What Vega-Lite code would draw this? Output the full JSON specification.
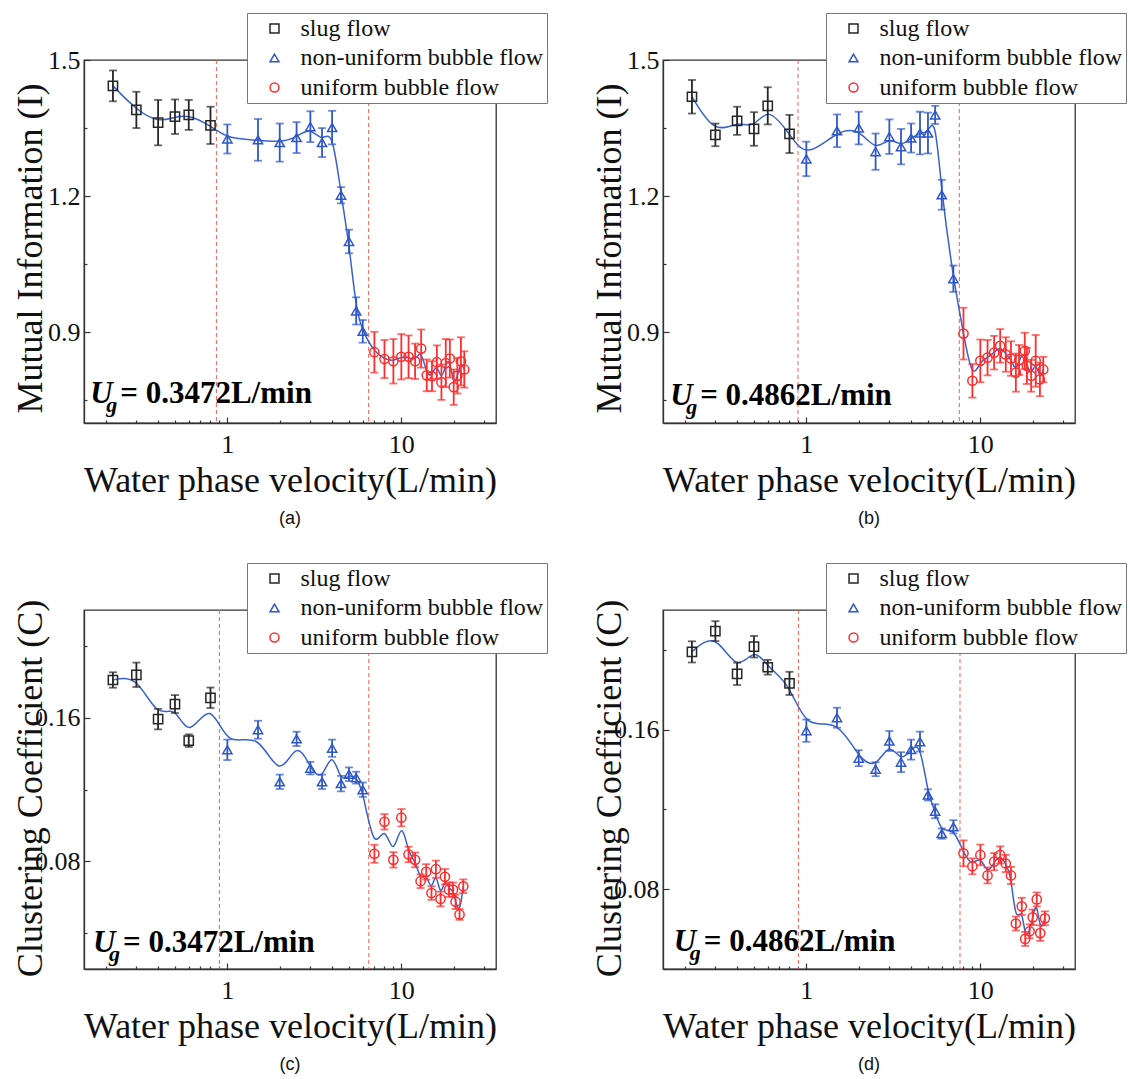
{
  "$schema": "https://vega.github.io/schema/vega-lite/v6.json",
  "autosize": {"type": "none"},
  "padding": {"left": 84, "top": 60, "right": 1046, "bottom": 1019},
  "background": "white",
  "config": {
    "font": "Liberation Serif",
    "view": {"stroke": "#333", "strokeWidth": 1.3},
    "axis": {"labelFont": "Liberation Serif", "labelFontSize": 26, "labelColor": "#111", "titleFont": "Liberation Serif", "titleFontSize": 36, "titleFontWeight": "normal", "titleColor": "#111", "domainColor": "#333", "domainWidth": 1.3, "tickColor": "#333", "tickWidth": 1.2, "grid": false, "labelOverlap": false, "labelFlush": false, "labelPadding": 10, "tickSize": -5},
    "axisX": {"labelPadding": 14},
    "legend": {"orient": "none", "legendX": 163, "legendY": -47, "fillColor": "white", "strokeColor": "#777", "padding": 3.5, "symbolOffset": 12, "labelOffset": 14, "rowPadding": 5.5, "labelFont": "Liberation Serif", "labelFontSize": 24, "labelColor": "#111", "labelLimit": 0, "symbolSize": 80, "symbolStrokeWidth": 1.5, "symbolFillColor": "transparent"},
    "title": {"font": "Liberation Sans", "fontSize": 18, "fontWeight": "normal", "color": "#111", "orient": "bottom", "offset": 12}
  },
  "datasets": {
    "vl": [
      {"p": "a", "x": 0.865}, {"p": "a", "x": 6.49},
      {"p": "b", "x": 0.895}, {"p": "b", "x": 7.57},
      {"p": "c", "x": 0.9}, {"p": "c", "x": 6.5},
      {"p": "d", "x": 0.9}, {"p": "d", "x": 7.64}
    ],
    "ann": [
      {"p": "a", "x": 0.163, "y": 0.743, "t": "= 0.3472L/min"},
      {"p": "b", "x": 0.165, "y": 0.74, "t": "= 0.4862L/min"},
      {"p": "c", "x": 0.169, "y": 0.0295, "t": "= 0.3472L/min"},
      {"p": "d", "x": 0.173, "y": 0.049, "t": "= 0.4862L/min"}
    ],
    "pts": [
      {"p": "a", "r": "slug flow", "x": 0.22, "y": 1.443, "e": 0.034},
      {"p": "a", "r": "slug flow", "x": 0.3, "y": 1.39, "e": 0.04},
      {"p": "a", "r": "slug flow", "x": 0.4, "y": 1.362, "e": 0.05},
      {"p": "a", "r": "slug flow", "x": 0.5, "y": 1.375, "e": 0.038},
      {"p": "a", "r": "slug flow", "x": 0.6, "y": 1.379, "e": 0.033},
      {"p": "a", "r": "slug flow", "x": 0.8, "y": 1.356, "e": 0.041},
      {"p": "a", "r": "non-uniform bubble flow", "x": 1, "y": 1.326, "e": 0.032},
      {"p": "a", "r": "non-uniform bubble flow", "x": 1.5, "y": 1.324, "e": 0.046},
      {"p": "a", "r": "non-uniform bubble flow", "x": 2, "y": 1.318, "e": 0.042},
      {"p": "a", "r": "non-uniform bubble flow", "x": 2.5, "y": 1.329, "e": 0.034},
      {"p": "a", "r": "non-uniform bubble flow", "x": 3, "y": 1.353, "e": 0.034},
      {"p": "a", "r": "non-uniform bubble flow", "x": 3.5, "y": 1.318, "e": 0.032},
      {"p": "a", "r": "non-uniform bubble flow", "x": 4, "y": 1.351, "e": 0.037},
      {"p": "a", "r": "non-uniform bubble flow", "x": 4.5, "y": 1.202, "e": 0.018},
      {"p": "a", "r": "non-uniform bubble flow", "x": 5, "y": 1.1, "e": 0.026},
      {"p": "a", "r": "non-uniform bubble flow", "x": 5.5, "y": 0.947, "e": 0.03},
      {"p": "a", "r": "non-uniform bubble flow", "x": 6, "y": 0.902, "e": 0.025},
      {"p": "a", "r": "uniform bubble flow", "x": 7, "y": 0.856, "e": 0.045},
      {"p": "a", "r": "uniform bubble flow", "x": 8, "y": 0.841, "e": 0.042},
      {"p": "a", "r": "uniform bubble flow", "x": 9, "y": 0.836, "e": 0.049},
      {"p": "a", "r": "uniform bubble flow", "x": 10, "y": 0.846, "e": 0.05},
      {"p": "a", "r": "uniform bubble flow", "x": 11, "y": 0.846, "e": 0.047},
      {"p": "a", "r": "uniform bubble flow", "x": 12, "y": 0.836, "e": 0.039},
      {"p": "a", "r": "uniform bubble flow", "x": 13, "y": 0.864, "e": 0.042},
      {"p": "a", "r": "uniform bubble flow", "x": 14, "y": 0.805, "e": 0.035},
      {"p": "a", "r": "uniform bubble flow", "x": 15, "y": 0.803, "e": 0.033},
      {"p": "a", "r": "uniform bubble flow", "x": 16, "y": 0.834, "e": 0.037},
      {"p": "a", "r": "uniform bubble flow", "x": 17, "y": 0.79, "e": 0.039},
      {"p": "a", "r": "uniform bubble flow", "x": 18, "y": 0.832, "e": 0.053},
      {"p": "a", "r": "uniform bubble flow", "x": 19, "y": 0.842, "e": 0.042},
      {"p": "a", "r": "uniform bubble flow", "x": 20, "y": 0.779, "e": 0.039},
      {"p": "a", "r": "uniform bubble flow", "x": 21, "y": 0.804, "e": 0.039},
      {"p": "a", "r": "uniform bubble flow", "x": 22, "y": 0.836, "e": 0.053},
      {"p": "a", "r": "uniform bubble flow", "x": 23, "y": 0.818, "e": 0.04},

      {"p": "b", "r": "slug flow", "x": 0.22, "y": 1.419, "e": 0.037},
      {"p": "b", "r": "slug flow", "x": 0.3, "y": 1.335, "e": 0.025},
      {"p": "b", "r": "slug flow", "x": 0.4, "y": 1.366, "e": 0.031},
      {"p": "b", "r": "slug flow", "x": 0.5, "y": 1.348, "e": 0.037},
      {"p": "b", "r": "slug flow", "x": 0.6, "y": 1.399, "e": 0.041},
      {"p": "b", "r": "slug flow", "x": 0.8, "y": 1.337, "e": 0.042},
      {"p": "b", "r": "non-uniform bubble flow", "x": 1, "y": 1.282, "e": 0.038},
      {"p": "b", "r": "non-uniform bubble flow", "x": 1.5, "y": 1.344, "e": 0.036},
      {"p": "b", "r": "non-uniform bubble flow", "x": 2, "y": 1.35, "e": 0.036},
      {"p": "b", "r": "non-uniform bubble flow", "x": 2.5, "y": 1.298, "e": 0.04},
      {"p": "b", "r": "non-uniform bubble flow", "x": 3, "y": 1.331, "e": 0.038},
      {"p": "b", "r": "non-uniform bubble flow", "x": 3.5, "y": 1.309, "e": 0.039},
      {"p": "b", "r": "non-uniform bubble flow", "x": 4, "y": 1.328, "e": 0.032},
      {"p": "b", "r": "non-uniform bubble flow", "x": 4.5, "y": 1.339, "e": 0.047},
      {"p": "b", "r": "non-uniform bubble flow", "x": 5, "y": 1.339, "e": 0.045},
      {"p": "b", "r": "non-uniform bubble flow", "x": 5.5, "y": 1.379, "e": 0.02},
      {"p": "b", "r": "non-uniform bubble flow", "x": 6, "y": 1.203, "e": 0.033},
      {"p": "b", "r": "non-uniform bubble flow", "x": 7, "y": 1.018, "e": 0.029},
      {"p": "b", "r": "uniform bubble flow", "x": 8, "y": 0.897, "e": 0.057},
      {"p": "b", "r": "uniform bubble flow", "x": 9, "y": 0.793, "e": 0.037},
      {"p": "b", "r": "uniform bubble flow", "x": 10, "y": 0.837, "e": 0.047},
      {"p": "b", "r": "uniform bubble flow", "x": 11, "y": 0.844, "e": 0.039},
      {"p": "b", "r": "uniform bubble flow", "x": 12, "y": 0.855, "e": 0.037},
      {"p": "b", "r": "uniform bubble flow", "x": 13, "y": 0.87, "e": 0.037},
      {"p": "b", "r": "uniform bubble flow", "x": 14, "y": 0.851, "e": 0.038},
      {"p": "b", "r": "uniform bubble flow", "x": 15, "y": 0.842, "e": 0.038},
      {"p": "b", "r": "uniform bubble flow", "x": 16, "y": 0.811, "e": 0.042},
      {"p": "b", "r": "uniform bubble flow", "x": 16.7, "y": 0.839, "e": 0.033},
      {"p": "b", "r": "uniform bubble flow", "x": 18, "y": 0.859, "e": 0.04},
      {"p": "b", "r": "uniform bubble flow", "x": 18.5, "y": 0.826, "e": 0.04},
      {"p": "b", "r": "uniform bubble flow", "x": 19.6, "y": 0.804, "e": 0.035},
      {"p": "b", "r": "uniform bubble flow", "x": 20.8, "y": 0.837, "e": 0.057},
      {"p": "b", "r": "uniform bubble flow", "x": 22, "y": 0.796, "e": 0.037},
      {"p": "b", "r": "uniform bubble flow", "x": 23, "y": 0.818, "e": 0.028},

      {"p": "c", "r": "slug flow", "x": 0.22, "y": 0.181, "e": 0.0043},
      {"p": "c", "r": "slug flow", "x": 0.3, "y": 0.1839, "e": 0.0068},
      {"p": "c", "r": "slug flow", "x": 0.4, "y": 0.1592, "e": 0.0057},
      {"p": "c", "r": "slug flow", "x": 0.5, "y": 0.1676, "e": 0.005},
      {"p": "c", "r": "slug flow", "x": 0.6, "y": 0.1472, "e": 0.0035},
      {"p": "c", "r": "slug flow", "x": 0.8, "y": 0.1711, "e": 0.0057},
      {"p": "c", "r": "non-uniform bubble flow", "x": 1, "y": 0.1421, "e": 0.0057},
      {"p": "c", "r": "non-uniform bubble flow", "x": 1.5, "y": 0.1533, "e": 0.005},
      {"p": "c", "r": "non-uniform bubble flow", "x": 2, "y": 0.1243, "e": 0.004},
      {"p": "c", "r": "non-uniform bubble flow", "x": 2.5, "y": 0.1482, "e": 0.004},
      {"p": "c", "r": "non-uniform bubble flow", "x": 3, "y": 0.1319, "e": 0.0035},
      {"p": "c", "r": "non-uniform bubble flow", "x": 3.5, "y": 0.1243, "e": 0.004},
      {"p": "c", "r": "non-uniform bubble flow", "x": 4, "y": 0.143, "e": 0.0048},
      {"p": "c", "r": "non-uniform bubble flow", "x": 4.5, "y": 0.1233, "e": 0.0043},
      {"p": "c", "r": "non-uniform bubble flow", "x": 5, "y": 0.1285, "e": 0.0038},
      {"p": "c", "r": "non-uniform bubble flow", "x": 5.5, "y": 0.1266, "e": 0.0033},
      {"p": "c", "r": "non-uniform bubble flow", "x": 6, "y": 0.1199, "e": 0.004},
      {"p": "c", "r": "uniform bubble flow", "x": 7, "y": 0.0842, "e": 0.005},
      {"p": "c", "r": "uniform bubble flow", "x": 8, "y": 0.102, "e": 0.0043},
      {"p": "c", "r": "uniform bubble flow", "x": 9, "y": 0.0808, "e": 0.0043},
      {"p": "c", "r": "uniform bubble flow", "x": 10, "y": 0.1043, "e": 0.0048},
      {"p": "c", "r": "uniform bubble flow", "x": 11, "y": 0.0838, "e": 0.0043},
      {"p": "c", "r": "uniform bubble flow", "x": 12, "y": 0.0808, "e": 0.0041},
      {"p": "c", "r": "uniform bubble flow", "x": 12.9, "y": 0.0689, "e": 0.0038},
      {"p": "c", "r": "uniform bubble flow", "x": 13.9, "y": 0.0741, "e": 0.0043},
      {"p": "c", "r": "uniform bubble flow", "x": 14.9, "y": 0.0623, "e": 0.0038},
      {"p": "c", "r": "uniform bubble flow", "x": 15.8, "y": 0.0756, "e": 0.0048},
      {"p": "c", "r": "uniform bubble flow", "x": 16.8, "y": 0.059, "e": 0.0041},
      {"p": "c", "r": "uniform bubble flow", "x": 17.8, "y": 0.0714, "e": 0.0043},
      {"p": "c", "r": "uniform bubble flow", "x": 18.8, "y": 0.0642, "e": 0.004},
      {"p": "c", "r": "uniform bubble flow", "x": 19.8, "y": 0.0642, "e": 0.004},
      {"p": "c", "r": "uniform bubble flow", "x": 20.5, "y": 0.0575, "e": 0.004},
      {"p": "c", "r": "uniform bubble flow", "x": 21.6, "y": 0.0504, "e": 0.003},
      {"p": "c", "r": "uniform bubble flow", "x": 22.7, "y": 0.0661, "e": 0.0038},

      {"p": "d", "r": "slug flow", "x": 0.22, "y": 0.199, "e": 0.0053},
      {"p": "d", "r": "slug flow", "x": 0.3, "y": 0.2094, "e": 0.005},
      {"p": "d", "r": "slug flow", "x": 0.4, "y": 0.188, "e": 0.0056},
      {"p": "d", "r": "slug flow", "x": 0.5, "y": 0.2016, "e": 0.0054},
      {"p": "d", "r": "slug flow", "x": 0.6, "y": 0.1913, "e": 0.0037},
      {"p": "d", "r": "slug flow", "x": 0.8, "y": 0.1832, "e": 0.0058},
      {"p": "d", "r": "non-uniform bubble flow", "x": 1, "y": 0.1595, "e": 0.0056},
      {"p": "d", "r": "non-uniform bubble flow", "x": 1.5, "y": 0.166, "e": 0.005},
      {"p": "d", "r": "non-uniform bubble flow", "x": 2, "y": 0.1457, "e": 0.004},
      {"p": "d", "r": "non-uniform bubble flow", "x": 2.5, "y": 0.1402, "e": 0.0035},
      {"p": "d", "r": "non-uniform bubble flow", "x": 3, "y": 0.1543, "e": 0.005},
      {"p": "d", "r": "non-uniform bubble flow", "x": 3.5, "y": 0.1437, "e": 0.005},
      {"p": "d", "r": "non-uniform bubble flow", "x": 4, "y": 0.15, "e": 0.005},
      {"p": "d", "r": "non-uniform bubble flow", "x": 4.5, "y": 0.154, "e": 0.005},
      {"p": "d", "r": "non-uniform bubble flow", "x": 5, "y": 0.1273, "e": 0.0028},
      {"p": "d", "r": "non-uniform bubble flow", "x": 5.5, "y": 0.1191, "e": 0.0035},
      {"p": "d", "r": "non-uniform bubble flow", "x": 6, "y": 0.1079, "e": 0.0026},
      {"p": "d", "r": "non-uniform bubble flow", "x": 7, "y": 0.1113, "e": 0.0033},
      {"p": "d", "r": "uniform bubble flow", "x": 8, "y": 0.098, "e": 0.0065},
      {"p": "d", "r": "uniform bubble flow", "x": 9, "y": 0.0915, "e": 0.004},
      {"p": "d", "r": "uniform bubble flow", "x": 10, "y": 0.0972, "e": 0.0052},
      {"p": "d", "r": "uniform bubble flow", "x": 11, "y": 0.0869, "e": 0.004},
      {"p": "d", "r": "uniform bubble flow", "x": 12, "y": 0.0938, "e": 0.0043},
      {"p": "d", "r": "uniform bubble flow", "x": 13, "y": 0.0972, "e": 0.0043},
      {"p": "d", "r": "uniform bubble flow", "x": 14, "y": 0.0929, "e": 0.0043},
      {"p": "d", "r": "uniform bubble flow", "x": 15, "y": 0.0869, "e": 0.0043},
      {"p": "d", "r": "uniform bubble flow", "x": 16, "y": 0.0628, "e": 0.0035},
      {"p": "d", "r": "uniform bubble flow", "x": 17.3, "y": 0.0714, "e": 0.0043},
      {"p": "d", "r": "uniform bubble flow", "x": 18.1, "y": 0.0551, "e": 0.0035},
      {"p": "d", "r": "uniform bubble flow", "x": 19.2, "y": 0.0589, "e": 0.0035},
      {"p": "d", "r": "uniform bubble flow", "x": 20, "y": 0.0659, "e": 0.0039},
      {"p": "d", "r": "uniform bubble flow", "x": 21.1, "y": 0.0749, "e": 0.0035},
      {"p": "d", "r": "uniform bubble flow", "x": 22.1, "y": 0.058, "e": 0.0039},
      {"p": "d", "r": "uniform bubble flow", "x": 23.5, "y": 0.0654, "e": 0.0035}
    ]
  },
  "columns": 2,
  "bounds": "flush",
  "spacing": {"row": 187, "column": 167},
  "resolve": {"legend": {"color": "independent", "shape": "independent"}},
  "concat": [
    {
      "width": 412, "height": 363,
      "title": {"text": "(a)"},
      "encoding": {"x": {"field": "x", "type": "quantitative", "scale": {"type": "log", "domain": [0.15, 35], "nice": false}, "axis": {"title": "Water phase velocity(L/min)", "titleY": 57, "titleBaseline": "middle", "values": [0.2, 0.3, 0.4, 0.5, 0.6, 0.7, 0.8, 0.9, 1, 2, 3, 4, 5, 6, 7, 8, 9, 10, 20, 30], "labelExpr": "datum.value == 1 ? '1' : datum.value == 10 ? '10' : ''", "tickSize": {"condition": {"test": "datum.value == 1 || datum.value == 10", "value": -6}, "value": -3}}}},
      "layer": [
        {"data": {"name": "vl"}, "transform": [{"filter": "datum.p == 'a'"}], "mark": {"type": "rule", "color": "#f0604f", "strokeDash": [4, 3], "strokeWidth": 1}, "encoding": {}},
        {"data": {"name": "pts"}, "transform": [{"filter": "datum.p == 'a'"}], "mark": {"type": "line", "interpolate": "basis", "color": "#3a62cc", "strokeWidth": 1.5},
          "encoding": {"y": {"field": "y", "type": "quantitative", "scale": {"domain": [0.7, 1.5], "nice": false, "zero": false}, "axis": {"title": "Mutual Information (I)", "titleX": -54, "titleY": 188, "titleBaseline": "middle", "values": [0.75, 0.9, 1.05, 1.2, 1.35, 1.5], "labelExpr": "datum.value == 0.9 || datum.value == 1.2 || datum.value == 1.5 ? format(datum.value, '.1f') : ''", "tickSize": {"condition": {"test": "datum.value == 0.9 || datum.value == 1.2 || datum.value == 1.5", "value": -6}, "value": -3}}}}},
        {"data": {"name": "pts"}, "transform": [{"filter": "datum.p == 'a' && datum.r == 'slug flow'"}], "mark": {"type": "errorbar", "color": "#262626", "thickness": 1.8, "ticks": {"size": 8, "thickness": 1.8}},
          "encoding": {"y": {"field": "y", "type": "quantitative", "title": "Mutual Information (I)"}, "yError": {"field": "e"}}},
        {"data": {"name": "pts"}, "transform": [{"filter": "datum.p == 'a' && datum.r == 'non-uniform bubble flow'"}], "mark": {"type": "errorbar", "color": "#2f57c9", "thickness": 1.8, "ticks": {"size": 8, "thickness": 1.8}},
          "encoding": {"y": {"field": "y", "type": "quantitative", "title": "Mutual Information (I)"}, "yError": {"field": "e"}}},
        {"data": {"name": "pts"}, "transform": [{"filter": "datum.p == 'a' && datum.r == 'uniform bubble flow'"}], "mark": {"type": "errorbar", "color": "#ff2d2d", "thickness": 1.8, "ticks": {"size": 8, "thickness": 1.8}},
          "encoding": {"y": {"field": "y", "type": "quantitative", "title": "Mutual Information (I)"}, "yError": {"field": "e"}}},
        {"data": {"name": "pts"}, "transform": [{"filter": "datum.p == 'a'"}], "mark": {"type": "point", "filled": false, "size": 85, "strokeWidth": 1.5, "opacity": 1},
          "encoding": {"y": {"field": "y", "type": "quantitative", "title": "Mutual Information (I)"},
            "color": {"field": "r", "type": "nominal", "title": null, "scale": {"domain": ["slug flow", "non-uniform bubble flow", "uniform bubble flow"], "range": ["#262626", "#2f57c9", "#ff2d2d"]}},
            "shape": {"field": "r", "type": "nominal", "title": null, "scale": {"domain": ["slug flow", "non-uniform bubble flow", "uniform bubble flow"], "range": ["square", "triangle-up", "circle"]}}}},
        {"data": {"name": "ann"}, "transform": [{"filter": "datum.p == 'a'"}], "mark": {"type": "text", "text": "U", "align": "left", "baseline": "alphabetic", "fontSize": 31, "fontWeight": "bold", "fontStyle": "italic", "color": "#000"},
          "encoding": {"y": {"field": "y", "type": "quantitative"}}},
        {"data": {"name": "ann"}, "transform": [{"filter": "datum.p == 'a'"}], "mark": {"type": "text", "text": "g", "align": "left", "baseline": "alphabetic", "fontSize": 22, "fontWeight": "bold", "fontStyle": "italic", "color": "#000", "dx": 16, "dy": 9},
          "encoding": {"y": {"field": "y", "type": "quantitative"}}},
        {"data": {"name": "ann"}, "transform": [{"filter": "datum.p == 'a'"}], "mark": {"type": "text", "align": "left", "baseline": "alphabetic", "fontSize": 31, "fontWeight": "bold", "color": "#000", "dx": 30},
          "encoding": {"y": {"field": "y", "type": "quantitative"}, "text": {"field": "t"}}}
      ]
    },
    {
      "width": 412, "height": 363,
      "title": {"text": "(b)"},
      "encoding": {"x": {"field": "x", "type": "quantitative", "scale": {"type": "log", "domain": [0.15, 35], "nice": false}, "axis": {"title": "Water phase velocity(L/min)", "titleY": 57, "titleBaseline": "middle", "values": [0.2, 0.3, 0.4, 0.5, 0.6, 0.7, 0.8, 0.9, 1, 2, 3, 4, 5, 6, 7, 8, 9, 10, 20, 30], "labelExpr": "datum.value == 1 ? '1' : datum.value == 10 ? '10' : ''", "tickSize": {"condition": {"test": "datum.value == 1 || datum.value == 10", "value": -6}, "value": -3}}}},
      "layer": [
        {"data": {"name": "vl"}, "transform": [{"filter": "datum.p == 'b'"}], "mark": {"type": "rule", "color": "#f0604f", "strokeDash": [4, 3], "strokeWidth": 1}, "encoding": {}},
        {"data": {"name": "pts"}, "transform": [{"filter": "datum.p == 'b'"}], "mark": {"type": "line", "interpolate": "basis", "color": "#3a62cc", "strokeWidth": 1.5},
          "encoding": {"y": {"field": "y", "type": "quantitative", "scale": {"domain": [0.7, 1.5], "nice": false, "zero": false}, "axis": {"title": "Mutual Information (I)", "titleX": -54, "titleY": 188, "titleBaseline": "middle", "values": [0.75, 0.9, 1.05, 1.2, 1.35, 1.5], "labelExpr": "datum.value == 0.9 || datum.value == 1.2 || datum.value == 1.5 ? format(datum.value, '.1f') : ''", "tickSize": {"condition": {"test": "datum.value == 0.9 || datum.value == 1.2 || datum.value == 1.5", "value": -6}, "value": -3}}}}},
        {"data": {"name": "pts"}, "transform": [{"filter": "datum.p == 'b' && datum.r == 'slug flow'"}], "mark": {"type": "errorbar", "color": "#262626", "thickness": 1.8, "ticks": {"size": 8, "thickness": 1.8}},
          "encoding": {"y": {"field": "y", "type": "quantitative", "title": "Mutual Information (I)"}, "yError": {"field": "e"}}},
        {"data": {"name": "pts"}, "transform": [{"filter": "datum.p == 'b' && datum.r == 'non-uniform bubble flow'"}], "mark": {"type": "errorbar", "color": "#2f57c9", "thickness": 1.8, "ticks": {"size": 8, "thickness": 1.8}},
          "encoding": {"y": {"field": "y", "type": "quantitative", "title": "Mutual Information (I)"}, "yError": {"field": "e"}}},
        {"data": {"name": "pts"}, "transform": [{"filter": "datum.p == 'b' && datum.r == 'uniform bubble flow'"}], "mark": {"type": "errorbar", "color": "#ff2d2d", "thickness": 1.8, "ticks": {"size": 8, "thickness": 1.8}},
          "encoding": {"y": {"field": "y", "type": "quantitative", "title": "Mutual Information (I)"}, "yError": {"field": "e"}}},
        {"data": {"name": "pts"}, "transform": [{"filter": "datum.p == 'b'"}], "mark": {"type": "point", "filled": false, "size": 85, "strokeWidth": 1.5, "opacity": 1},
          "encoding": {"y": {"field": "y", "type": "quantitative", "title": "Mutual Information (I)"},
            "color": {"field": "r", "type": "nominal", "title": null, "scale": {"domain": ["slug flow", "non-uniform bubble flow", "uniform bubble flow"], "range": ["#262626", "#2f57c9", "#ff2d2d"]}},
            "shape": {"field": "r", "type": "nominal", "title": null, "scale": {"domain": ["slug flow", "non-uniform bubble flow", "uniform bubble flow"], "range": ["square", "triangle-up", "circle"]}}}},
        {"data": {"name": "ann"}, "transform": [{"filter": "datum.p == 'b'"}], "mark": {"type": "text", "text": "U", "align": "left", "baseline": "alphabetic", "fontSize": 31, "fontWeight": "bold", "fontStyle": "italic", "color": "#000"},
          "encoding": {"y": {"field": "y", "type": "quantitative"}}},
        {"data": {"name": "ann"}, "transform": [{"filter": "datum.p == 'b'"}], "mark": {"type": "text", "text": "g", "align": "left", "baseline": "alphabetic", "fontSize": 22, "fontWeight": "bold", "fontStyle": "italic", "color": "#000", "dx": 16, "dy": 9},
          "encoding": {"y": {"field": "y", "type": "quantitative"}}},
        {"data": {"name": "ann"}, "transform": [{"filter": "datum.p == 'b'"}], "mark": {"type": "text", "align": "left", "baseline": "alphabetic", "fontSize": 31, "fontWeight": "bold", "color": "#000", "dx": 30},
          "encoding": {"y": {"field": "y", "type": "quantitative"}, "text": {"field": "t"}}}
      ]
    },
    {
      "width": 412, "height": 359,
      "title": {"text": "(c)"},
      "encoding": {"x": {"field": "x", "type": "quantitative", "scale": {"type": "log", "domain": [0.15, 35], "nice": false}, "axis": {"title": "Water phase velocity(L/min)", "titleY": 57, "titleBaseline": "middle", "values": [0.2, 0.3, 0.4, 0.5, 0.6, 0.7, 0.8, 0.9, 1, 2, 3, 4, 5, 6, 7, 8, 9, 10, 20, 30], "labelExpr": "datum.value == 1 ? '1' : datum.value == 10 ? '10' : ''", "tickSize": {"condition": {"test": "datum.value == 1 || datum.value == 10", "value": -6}, "value": -3}}}},
      "layer": [
        {"data": {"name": "vl"}, "transform": [{"filter": "datum.p == 'c'"}], "mark": {"type": "rule", "color": "#f0604f", "strokeDash": [4, 3], "strokeWidth": 1}, "encoding": {}},
        {"data": {"name": "pts"}, "transform": [{"filter": "datum.p == 'c'"}], "mark": {"type": "line", "interpolate": "basis", "color": "#3a62cc", "strokeWidth": 1.5},
          "encoding": {"y": {"field": "y", "type": "quantitative", "scale": {"domain": [0.02, 0.22], "nice": false, "zero": false}, "axis": {"title": "Clustering Coefficient (C)", "titleX": -54, "titleY": 178, "titleBaseline": "middle", "values": [0.04, 0.08, 0.12, 0.16, 0.2], "labelExpr": "datum.value == 0.08 || datum.value == 0.16 ? format(datum.value, '.2f') : ''", "tickSize": {"condition": {"test": "datum.value == 0.08 || datum.value == 0.16", "value": -6}, "value": -3}}}}},
        {"data": {"name": "pts"}, "transform": [{"filter": "datum.p == 'c' && datum.r == 'slug flow'"}], "mark": {"type": "errorbar", "color": "#262626", "thickness": 1.8, "ticks": {"size": 8, "thickness": 1.8}},
          "encoding": {"y": {"field": "y", "type": "quantitative", "title": "Clustering Coefficient (C)"}, "yError": {"field": "e"}}},
        {"data": {"name": "pts"}, "transform": [{"filter": "datum.p == 'c' && datum.r == 'non-uniform bubble flow'"}], "mark": {"type": "errorbar", "color": "#2f57c9", "thickness": 1.8, "ticks": {"size": 8, "thickness": 1.8}},
          "encoding": {"y": {"field": "y", "type": "quantitative", "title": "Clustering Coefficient (C)"}, "yError": {"field": "e"}}},
        {"data": {"name": "pts"}, "transform": [{"filter": "datum.p == 'c' && datum.r == 'uniform bubble flow'"}], "mark": {"type": "errorbar", "color": "#ff2d2d", "thickness": 1.8, "ticks": {"size": 8, "thickness": 1.8}},
          "encoding": {"y": {"field": "y", "type": "quantitative", "title": "Clustering Coefficient (C)"}, "yError": {"field": "e"}}},
        {"data": {"name": "pts"}, "transform": [{"filter": "datum.p == 'c'"}], "mark": {"type": "point", "filled": false, "size": 85, "strokeWidth": 1.5, "opacity": 1},
          "encoding": {"y": {"field": "y", "type": "quantitative", "title": "Clustering Coefficient (C)"},
            "color": {"field": "r", "type": "nominal", "title": null, "scale": {"domain": ["slug flow", "non-uniform bubble flow", "uniform bubble flow"], "range": ["#262626", "#2f57c9", "#ff2d2d"]}},
            "shape": {"field": "r", "type": "nominal", "title": null, "scale": {"domain": ["slug flow", "non-uniform bubble flow", "uniform bubble flow"], "range": ["square", "triangle-up", "circle"]}}}},
        {"data": {"name": "ann"}, "transform": [{"filter": "datum.p == 'c'"}], "mark": {"type": "text", "text": "U", "align": "left", "baseline": "alphabetic", "fontSize": 31, "fontWeight": "bold", "fontStyle": "italic", "color": "#000"},
          "encoding": {"y": {"field": "y", "type": "quantitative"}}},
        {"data": {"name": "ann"}, "transform": [{"filter": "datum.p == 'c'"}], "mark": {"type": "text", "text": "g", "align": "left", "baseline": "alphabetic", "fontSize": 22, "fontWeight": "bold", "fontStyle": "italic", "color": "#000", "dx": 16, "dy": 9},
          "encoding": {"y": {"field": "y", "type": "quantitative"}}},
        {"data": {"name": "ann"}, "transform": [{"filter": "datum.p == 'c'"}], "mark": {"type": "text", "align": "left", "baseline": "alphabetic", "fontSize": 31, "fontWeight": "bold", "color": "#000", "dx": 30},
          "encoding": {"y": {"field": "y", "type": "quantitative"}, "text": {"field": "t"}}}
      ]
    },
    {
      "width": 412, "height": 359,
      "title": {"text": "(d)"},
      "encoding": {"x": {"field": "x", "type": "quantitative", "scale": {"type": "log", "domain": [0.15, 35], "nice": false}, "axis": {"title": "Water phase velocity(L/min)", "titleY": 57, "titleBaseline": "middle", "values": [0.2, 0.3, 0.4, 0.5, 0.6, 0.7, 0.8, 0.9, 1, 2, 3, 4, 5, 6, 7, 8, 9, 10, 20, 30], "labelExpr": "datum.value == 1 ? '1' : datum.value == 10 ? '10' : ''", "tickSize": {"condition": {"test": "datum.value == 1 || datum.value == 10", "value": -6}, "value": -3}}}},
      "layer": [
        {"data": {"name": "vl"}, "transform": [{"filter": "datum.p == 'd'"}], "mark": {"type": "rule", "color": "#f0604f", "strokeDash": [4, 3], "strokeWidth": 1}, "encoding": {}},
        {"data": {"name": "pts"}, "transform": [{"filter": "datum.p == 'd'"}], "mark": {"type": "line", "interpolate": "basis", "color": "#3a62cc", "strokeWidth": 1.5},
          "encoding": {"y": {"field": "y", "type": "quantitative", "scale": {"domain": [0.04, 0.22], "nice": false, "zero": false}, "axis": {"title": "Clustering Coefficient (C)", "titleX": -54, "titleY": 178, "titleBaseline": "middle", "values": [0.04, 0.08, 0.12, 0.16, 0.2], "labelExpr": "datum.value == 0.08 || datum.value == 0.16 ? format(datum.value, '.2f') : ''", "tickSize": {"condition": {"test": "datum.value == 0.08 || datum.value == 0.16", "value": -6}, "value": -3}}}}},
        {"data": {"name": "pts"}, "transform": [{"filter": "datum.p == 'd' && datum.r == 'slug flow'"}], "mark": {"type": "errorbar", "color": "#262626", "thickness": 1.8, "ticks": {"size": 8, "thickness": 1.8}},
          "encoding": {"y": {"field": "y", "type": "quantitative", "title": "Clustering Coefficient (C)"}, "yError": {"field": "e"}}},
        {"data": {"name": "pts"}, "transform": [{"filter": "datum.p == 'd' && datum.r == 'non-uniform bubble flow'"}], "mark": {"type": "errorbar", "color": "#2f57c9", "thickness": 1.8, "ticks": {"size": 8, "thickness": 1.8}},
          "encoding": {"y": {"field": "y", "type": "quantitative", "title": "Clustering Coefficient (C)"}, "yError": {"field": "e"}}},
        {"data": {"name": "pts"}, "transform": [{"filter": "datum.p == 'd' && datum.r == 'uniform bubble flow'"}], "mark": {"type": "errorbar", "color": "#ff2d2d", "thickness": 1.8, "ticks": {"size": 8, "thickness": 1.8}},
          "encoding": {"y": {"field": "y", "type": "quantitative", "title": "Clustering Coefficient (C)"}, "yError": {"field": "e"}}},
        {"data": {"name": "pts"}, "transform": [{"filter": "datum.p == 'd'"}], "mark": {"type": "point", "filled": false, "size": 85, "strokeWidth": 1.5, "opacity": 1},
          "encoding": {"y": {"field": "y", "type": "quantitative", "title": "Clustering Coefficient (C)"},
            "color": {"field": "r", "type": "nominal", "title": null, "scale": {"domain": ["slug flow", "non-uniform bubble flow", "uniform bubble flow"], "range": ["#262626", "#2f57c9", "#ff2d2d"]}},
            "shape": {"field": "r", "type": "nominal", "title": null, "scale": {"domain": ["slug flow", "non-uniform bubble flow", "uniform bubble flow"], "range": ["square", "triangle-up", "circle"]}}}},
        {"data": {"name": "ann"}, "transform": [{"filter": "datum.p == 'd'"}], "mark": {"type": "text", "text": "U", "align": "left", "baseline": "alphabetic", "fontSize": 31, "fontWeight": "bold", "fontStyle": "italic", "color": "#000"},
          "encoding": {"y": {"field": "y", "type": "quantitative"}}},
        {"data": {"name": "ann"}, "transform": [{"filter": "datum.p == 'd'"}], "mark": {"type": "text", "text": "g", "align": "left", "baseline": "alphabetic", "fontSize": 22, "fontWeight": "bold", "fontStyle": "italic", "color": "#000", "dx": 16, "dy": 9},
          "encoding": {"y": {"field": "y", "type": "quantitative"}}},
        {"data": {"name": "ann"}, "transform": [{"filter": "datum.p == 'd'"}], "mark": {"type": "text", "align": "left", "baseline": "alphabetic", "fontSize": 31, "fontWeight": "bold", "color": "#000", "dx": 30},
          "encoding": {"y": {"field": "y", "type": "quantitative"}, "text": {"field": "t"}}}
      ]
    }
  ]
}
